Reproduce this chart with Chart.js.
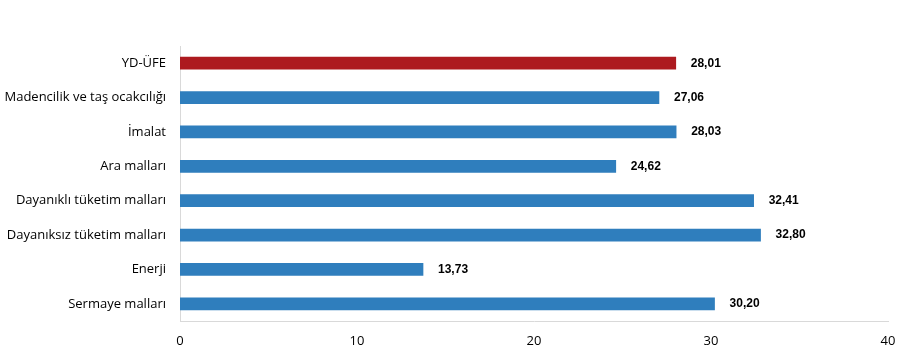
<!DOCTYPE html>
<html>
<head>
<meta charset="utf-8">
<script src="https://cdn.jsdelivr.net/npm/chart.js@4"></script>
<style>
  html, body { margin: 0; padding: 0; background: #fff; }
  #wrap { width: 900px; height: 353px; }
</style>
</head>
<body>
<div id="wrap"><canvas id="ufeChart" width="900" height="353"></canvas></div>
<script>
// Categories and values (annual change, %)
const categories = ['YD-ÜFE', 'Madencilik ve taş ocakcılığı', 'İmalat', 'Ara malları',
  'Dayanıklı tüketim malları', 'Dayanıksız tüketim malları', 'Enerji', 'Sermaye malları'];
const values = [28.01, 27.06, 28.03, 24.62, 32.41, 32.80, 13.73, 30.20];
const xTicks = [0, 10, 20, 30, 40];

const barColors = categories.map((c, i) => i === 0 ? '#ad1a1f' : '#2f7ebd');

// Value labels next to the bars
const valueLabels = {
  id: 'valueLabels',
  afterDatasetsDraw(chart) {
    const ctx = chart.ctx;
    const meta = chart.getDatasetMeta(0);
    ctx.save();
    ctx.font = 'bold 12px "Liberation Sans", Arial, sans-serif';
    ctx.fillStyle = '#000';
    ctx.textBaseline = 'middle';
    ctx.textAlign = 'left';
    meta.data.forEach((bar, i) => {
      ctx.fillText(values[i].toFixed(2).replace('.', ','), bar.x + 15, bar.y);
    });
    ctx.restore();
  }
};

const ctx = document.getElementById('ufeChart').getContext('2d');
const ufeChart = new Chart(ctx, {
  type: 'bar',
  data: {
    labels: categories,
    datasets: [{
      data: values,
      backgroundColor: barColors,
      borderWidth: 0,
      barThickness: 12
    }]
  },
  options: {
    indexAxis: 'y',
    responsive: false,
    animation: false,
    layout: { padding: { top: 46, right: 12, left: 0, bottom: 0 } },
    plugins: {
      legend: { display: false },
      tooltip: { enabled: false }
    },
    scales: {
      x: {
        min: 0,
        max: 40,
        afterBuildTicks(axis) { axis.ticks = xTicks.map(v => ({ value: v })); },
        afterFit(axis) {
          axis.height = 32;
          axis.paddingLeft = 0;
          axis.paddingRight = 0;
        },
        grid: { display: false, drawTicks: false },
        border: { display: true, color: '#d9d9d9', width: 1 },
        ticks: {
          padding: 12,
          color: '#000',
          font: { family: '"Open Sans", "Noto Sans", sans-serif', size: 13 }
        }
      },
      y: {
        afterFit(axis) { axis.width = 180; },
        grid: { display: false, drawTicks: false },
        border: { display: true, color: '#d9d9d9', width: 1 },
        ticks: {
          padding: 14,
          color: '#000',
          font: { family: '"Open Sans", "Noto Sans", sans-serif', size: 13 }
        }
      }
    }
  },
  plugins: [valueLabels]
});
</script>
</body>
</html>
